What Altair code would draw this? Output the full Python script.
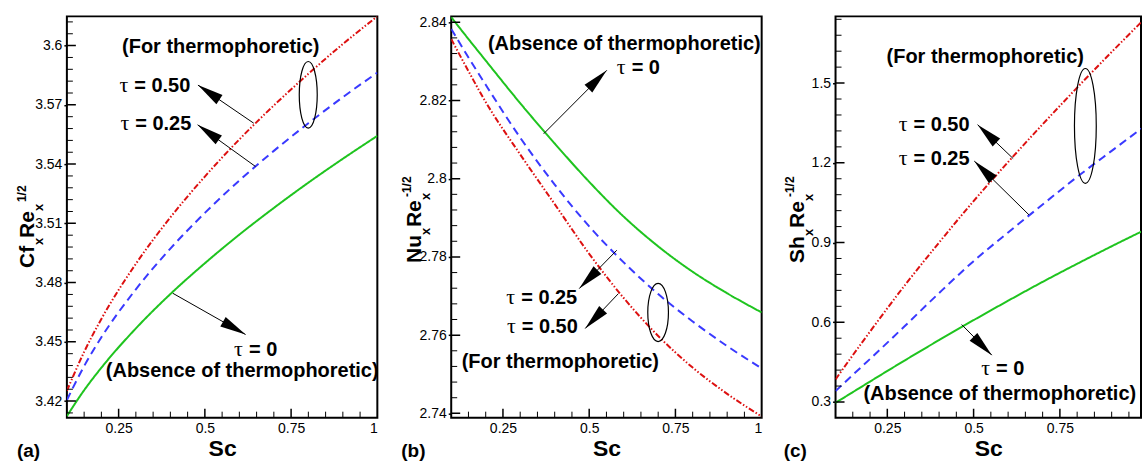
import altair as alt
import pandas as pd

# ---------------- data ----------------
SC = [0.1, 0.15, 0.2, 0.3, 0.4, 0.5, 0.6, 0.7, 0.8, 0.9, 1.0]
SERIES = ["τ = 0", "τ = 0.25", "τ = 0.50"]
COLORS = ["#1fc41f", "#3a3aff", "#dd1111"]
DASHES = [[1, 0], [8, 5], [6, 2, 1.5, 2, 1.5, 2]]

CF_T0 = [3.4124, 3.4255, 3.4369, 3.4568, 3.4742, 3.4898, 3.5043, 3.5178, 3.5306, 3.5427, 3.5543]
CF_T25 = [3.4205, 3.4377, 3.4523, 3.4766, 3.4972, 3.5153, 3.5317, 3.5467, 3.5607, 3.5739, 3.5863]
CF_T50 = [3.4252, 3.4449, 3.4616, 3.4895, 3.5130, 3.5337, 3.5525, 3.5697, 3.5857, 3.6008, 3.6148]

NU_T0 = [2.8413, 2.8357, 2.8302, 2.8193, 2.8090, 2.7992, 2.7903, 2.7827, 2.7762, 2.7707, 2.7658]
NU_T25 = [2.8383, 2.8310, 2.8240, 2.8105, 2.7985, 2.7878, 2.7786, 2.7705, 2.7635, 2.7572, 2.7515]
NU_T50 = [2.8357, 2.8275, 2.8196, 2.8062, 2.7935, 2.7808, 2.7695, 2.7598, 2.7517, 2.7450, 2.7392]

SH_T0 = [0.297, 0.337, 0.377, 0.456, 0.533, 0.608, 0.681, 0.752, 0.820, 0.886, 0.950]
SH_T25 = [0.341, 0.402, 0.462, 0.585, 0.710, 0.830, 0.938, 1.043, 1.147, 1.245, 1.342]
SH_T50 = [0.385, 0.476, 0.565, 0.738, 0.900, 1.056, 1.203, 1.345, 1.483, 1.617, 1.748]

# tick labels / tick positions
X_MAJOR = [0.25, 0.5, 0.75, 1.0]
X_MAJOR_C = [0.25, 0.5, 0.75]
X_MINOR = [0.15, 0.2, 0.3, 0.35, 0.4, 0.45, 0.55, 0.6, 0.65, 0.7, 0.8, 0.85, 0.9, 0.95]

CF_MAJOR = [3.42, 3.45, 3.48, 3.51, 3.54, 3.57, 3.6]
CF_MINOR = [3.414, 3.426, 3.432, 3.438, 3.444, 3.456, 3.462, 3.468, 3.474,
            3.486, 3.492, 3.498, 3.504, 3.516, 3.522, 3.528, 3.534,
            3.546, 3.552, 3.558, 3.564, 3.576, 3.582, 3.588, 3.594, 3.606, 3.612]
NU_MAJOR = [2.74, 2.76, 2.78, 2.8, 2.82, 2.84]
NU_MINOR = [2.744, 2.748, 2.752, 2.756, 2.764, 2.768, 2.772, 2.776,
            2.784, 2.788, 2.792, 2.796, 2.804, 2.808, 2.812, 2.816,
            2.824, 2.828, 2.832, 2.836]
SH_MAJOR = [0.3, 0.6, 0.9, 1.2, 1.5]
SH_MINOR = [0.36, 0.42, 0.48, 0.54, 0.66, 0.72, 0.78, 0.84, 0.96, 1.02, 1.08, 1.14,
            1.26, 1.32, 1.38, 1.44, 1.56, 1.62, 1.68, 1.74]

# annotations (data coordinates)
A_TEXTS = [["(For thermophoretic)", 0.546, 3.5995], ["(Absence of thermophoretic)", 0.6083, 3.4352]]
A_TAUS = [["= 0.50", 0.2808, 3.5793], ["= 0.25", 0.2838, 3.5604], ["= 0", 0.6133, 3.4461]]
A_ARROWS = [[0.6417, 3.5607, 0.4799, 3.5800, 304], [0.6466, 3.5388, 0.479, 3.5599, 305.5],
            [0.407, 3.4746, 0.618, 3.4537, 119.6]]
A_ELLIPSE = [0.7997, 3.5751]

B_TEXTS = [["(Absence of thermophoretic)", 0.6018, 2.8344], ["(For thermophoretic)", 0.4164, 2.7532]]
B_TAUS = [["= 0", 0.6087, 2.8284], ["= 0.25", 0.2884, 2.7695], ["= 0.50", 0.2901, 2.7621]]
B_ARROWS = [[0.3682, 2.8115, 0.551, 2.8277, 45], [0.5799, 2.7817, 0.4712, 2.7719, 224.5],
            [0.5845, 2.7706, 0.4885, 2.7617, 223.6]]
B_ELLIPSE = [0.6998, 2.7658]

C_TEXTS = [["(For thermophoretic)", 0.5337, 1.5975], ["(Absence of thermophoretic)", 0.5758, 0.3289]]
C_TAUS = [["= 0.50", 0.3115, 1.3414], ["= 0.25", 0.3115, 1.2161], ["= 0", 0.5503, 0.4226]]
C_ARROWS = [[0.6145, 1.2161, 0.5116, 1.3436, 313.6], [0.6606, 1.0039, 0.502, 1.2064, 314.5],
            [0.4654, 0.5914, 0.5528, 0.4763, 135]]
C_ELLIPSE = [0.8238, 1.3388]

FONT = "Liberation Sans"
SERIF = "Liberation Serif"
H = 402
HEAD = "M0,0L0.42,2L-0.42,2Z"


def ellipse_path(r):
    k = 0.5523
    return (f"M0,-1C{k*r:.4f},-1 {r},-{k} {r},0C{r},{k} {k*r:.4f},1 0,1"
            f"C-{k*r:.4f},1 -{r},{k} -{r},0C-{r},-{k} -{k*r:.4f},-1 0,-1Z")


def panel(vals, xdom, ydom, width, xmaj, ymaj, ymin, texts, taus, arrows, ell, ell_r, ell_h,
          title_parts, label, label_x):
    df = pd.DataFrame({
        "Sc": SC * 3,
        "v": vals[0] + vals[1] + vals[2],
        "s": [SERIES[0]] * len(SC) + [SERIES[1]] * len(SC) + [SERIES[2]] * len(SC),
    })
    xs = alt.Scale(domain=xdom, nice=False, zero=False)
    ys = alt.Scale(domain=ydom, nice=False, zero=False)
    xa = alt.Axis(values=xmaj, format=".2~f", title="Sc", tickSize=0, labelPadding=4, titlePadding=2,
                  domain=False, grid=False)
    ya = alt.Axis(values=ymaj, format=".2~f", title=None, tickSize=3, tickWidth=1.5, labelPadding=2,
                  domain=False, grid=False)

    def X(f):
        return alt.X(f, scale=xs, axis=xa)

    def Y(f):
        return alt.Y(f, scale=ys, axis=ya)

    layers = []
    layers.append(alt.Chart(df).mark_line(clip=True, strokeWidth=2, interpolate="monotone").encode(
        x=X("Sc:Q"), y=Y("v:Q"),
        color=alt.Color("s:N", scale=alt.Scale(domain=SERIES, range=COLORS), legend=None),
        strokeDash=alt.StrokeDash("s:N", scale=alt.Scale(domain=SERIES, range=DASHES), legend=None),
        detail="s:N",
    ))
    # inward ticks
    for vals_t, ln, sw in [(ymaj, 9, 1.5), (ymin, 6, 1)]:
        layers.append(alt.Chart(pd.DataFrame({"v": vals_t})).mark_rule(
            color="black", strokeWidth=sw, clip=True).encode(
            y=Y("v:Q"), x=alt.value(0), x2=alt.value(ln)))
    xm = [v for v in xmaj if v < xdom[1]]
    xn = [v for v in X_MINOR if v < xdom[1]]
    for vals_t, ln, sw in [(xm, 9, 1.5), (xn, 6, 1)]:
        layers.append(alt.Chart(pd.DataFrame({"Sc": vals_t})).mark_rule(
            color="black", strokeWidth=sw, clip=True).encode(
            x=X("Sc:Q"), y=alt.value(H), y2=alt.value(H - ln)))
    # arrows
    adf = pd.DataFrame(arrows, columns=["Sc", "v", "x1", "y1", "ang"])
    layers.append(alt.Chart(adf).mark_rule(color="black", strokeWidth=1).encode(
        x=X("Sc:Q"), y=Y("v:Q"), x2="x1:Q", y2="y1:Q"))
    hdf = pd.DataFrame({"Sc": [a[2] for a in arrows], "v": [a[3] for a in arrows],
                        "ang": [a[4] for a in arrows]})
    layers.append(alt.Chart(hdf).mark_point(shape=HEAD, filled=True, color="black", size=676, opacity=1).encode(
        x=X("Sc:Q"), y=Y("v:Q"), angle=alt.Angle("ang:Q", scale=None)))
    # ellipse
    edf = pd.DataFrame({"Sc": [ell[0]], "v": [ell[1]]})
    layers.append(alt.Chart(edf).mark_point(shape=ellipse_path(ell_r), filled=False, color="black",
                                            strokeWidth=1.2, size=ell_h * ell_h, opacity=1).encode(
        x=X("Sc:Q"), y=Y("v:Q")))
    # text labels
    tdf = pd.DataFrame(texts, columns=["txt", "Sc", "v"])
    layers.append(alt.Chart(tdf).mark_text(font=FONT, fontSize=20, fontWeight="bold", color="black",
                                           align="center", baseline="middle").encode(
        x=X("Sc:Q"), y=Y("v:Q"), text="txt:N"))
    # tau labels: serif tau + bold value
    udf = pd.DataFrame(taus, columns=["txt", "Sc", "v"])
    udf["tau"] = "τ"
    layers.append(alt.Chart(udf).mark_text(font=SERIF, fontSize=22, color="black",
                                           align="right", baseline="middle", dx=-1, dy=-1).encode(
        x=X("Sc:Q"), y=Y("v:Q"), text="tau:N"))
    layers.append(alt.Chart(udf).mark_text(font=FONT, fontSize=20, fontWeight="bold", color="black",
                                           align="left", baseline="middle", dx=5).encode(
        x=X("Sc:Q"), y=Y("v:Q"), text="txt:N"))
    # rotated y title made of pieces
    for txt, bx, sy, fs in title_parts:
        layers.append(alt.Chart(pd.DataFrame({"t": [txt]})).mark_text(
            font=FONT, fontSize=fs, fontWeight="bold", color="black", angle=270,
            align="left", baseline="alphabetic").encode(
            text="t:N", x=alt.value(bx), y=alt.value(sy)))
    # panel letter
    layers.append(alt.Chart(pd.DataFrame({"t": [label]})).mark_text(
        font=FONT, fontSize=19, fontWeight="bold", color="black", align="left", baseline="middle").encode(
        text="t:N", x=alt.value(label_x), y=alt.value(H + 33)))
    return alt.layer(*layers).properties(width=width, height=H)


pa = panel([CF_T0, CF_T25, CF_T50], [0.1, 1.0], [3.4116, 3.6148], 311, X_MAJOR, CF_MAJOR, CF_MINOR,
           A_TEXTS, A_TAUS, A_ARROWS, A_ELLIPSE, 0.27, 66.7,
           [["Cf", -33, 252, 21], ["x", -24, 229, 13], ["Re", -33, 222, 21],
            ["x", -24, 195, 13], ["1/2", -41, 186, 12]], "(a)", -50)
pb = panel([NU_T0, NU_T25, NU_T50], [0.1, 1.0], [2.7389, 2.8415], 311, X_MAJOR, NU_MAJOR, NU_MINOR,
           B_TEXTS, B_TAUS, B_ARROWS, B_ELLIPSE, 0.355, 58.3,
           [["Nu", -30, 247, 21], ["x", -21, 219, 13], ["Re", -30, 211, 21],
            ["x", -21, 184, 13], ["-1/2", -40, 181, 12]], "(b)", -50)
pc = panel([SH_T0, SH_T25, SH_T50], [0.1, 0.985], [0.241, 1.751], 306, X_MAJOR_C, SH_MAJOR, SH_MINOR,
           C_TEXTS, C_TAUS, C_ARROWS, C_ELLIPSE, 0.19, 115,
           [["Sh", -32, 247, 21], ["x", -23, 220, 13], ["Re", -32, 212, 21],
            ["x", -23, 185, 13], ["-1/2", -42, 181, 12]], "(c)", -52)

chart = alt.hconcat(pa, pb, pc, spacing=74, bounds="flush").properties(
    padding={"left": 15, "top": 13, "right": 0, "bottom": 0}
).configure(background="white").configure_view(
    stroke="black", strokeWidth=2
).configure_axis(
    labelFont=FONT, labelFontSize=14, labelColor="black", domain=False, grid=False,
    tickColor="black", titleFont=FONT, titleFontSize=23, titleFontWeight="bold", titleColor="black"
)

chart.save("out.html", embed_options={"renderer": "svg", "actions": False})
